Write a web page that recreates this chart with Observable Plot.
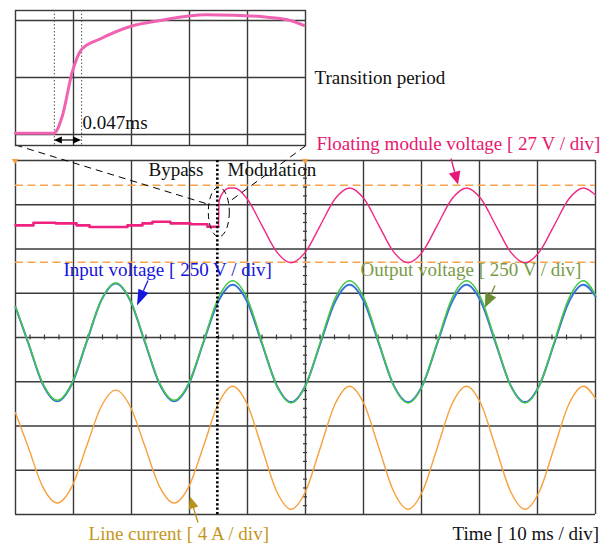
<!DOCTYPE html>
<html>
<head>
<meta charset="utf-8">
<script src="https://cdn.jsdelivr.net/npm/d3@7"></script>
<script src="https://cdn.jsdelivr.net/npm/@observablehq/plot@0.6"></script>
<style>
  body { margin: 0; background: #fff; }
  #wrap { position: relative; width: 612px; height: 544px; overflow: hidden; }
  #wrap svg { position: absolute; overflow: visible; }
</style>
</head>
<body>
<div id="wrap"></div>
<script>
// ---- Oscilloscope capture: time in ms (10 ms/div), amplitude in divisions ----
const gridTimes = [0, 10, 20, 30, 40, 50, 60, 70, 80, 90, 100];
const gridDivs = [-4, -3, -2, -1, 0, 1, 2, 3, 4];
const transitionT = 34.8;           // bypass -> modulation switch instant (ms)
const refLevels = [3.44, 1.70];     // dashed reference levels (div)

// sample instants shared by the grid-side traces (ms)
const sampleT = [0, 2.16, 4.68, 7.2, 9.72, 12.24, 14.76, 17.28, 19.8, 22.32, 24.84,
  27.36, 29.88, 32.4, 34.92, 37.44, 39.96, 42.48, 45.0, 47.52, 50.04, 52.56, 55.08,
  57.6, 60.12, 62.64, 65.16, 67.68, 70.2, 72.72, 75.24, 77.76, 80.28, 82.8, 85.32,
  87.84, 90.36, 92.88, 95.4, 97.92, 100];

// input voltage (div, 250 V/div)
const inputV = [0.69, -0.11, -1.05, -1.44, -1.05, -0.11, 0.83, 1.22, 0.83, -0.11, -1.05,
  -1.44, -1.05, -0.11, 0.80, 1.19, 0.80, -0.135, -1.07, -1.46, -1.07, -0.135, 0.80,
  1.19, 0.80, -0.135, -1.07, -1.46, -1.07, -0.135, 0.80, 1.19, 0.80, -0.135, -1.07,
  -1.46, -1.07, -0.135, 0.80, 1.19, 0.93];

// output voltage (div, 250 V/div)
const outputV = [0.70, -0.095, -1.03, -1.42, -1.03, -0.095, 0.84, 1.23, 0.84, -0.095, -1.03,
  -1.42, -1.03, -0.095, 0.88, 1.28, 0.88, -0.10, -1.08, -1.48, -1.08, -0.10, 0.88,
  1.28, 0.88, -0.10, -1.08, -1.48, -1.08, -0.10, 0.88, 1.28, 0.88, -0.10, -1.08,
  -1.48, -1.08, -0.10, 0.88, 1.28, 0.96];

// line current (div, 4 A/div)
const lineI = [-1.70, -2.465, -3.37, -3.74, -3.37, -2.465, -1.565, -1.19, -1.565, -2.465, -3.37,
  -3.74, -3.37, -2.465, -1.51, -1.10, -1.51, -2.49, -3.47, -3.88, -3.47, -2.49, -1.51,
  -1.10, -1.51, -2.49, -3.47, -3.88, -3.47, -2.49, -1.51, -1.10, -1.51, -2.49, -3.47,
  -3.88, -3.47, -2.49, -1.51, -1.10, -1.38];

// floating module voltage (div, 27 V/div): bypass stretch, then modulation
const floatPreT = [0, 3.10, 6.90, 10.52, 12.76, 19.31, 21.90, 23.62, 26.72, 30.17, 33.10, 35.0];
const floatPreV = [2.535, 2.594, 2.58, 2.535, 2.497, 2.535, 2.58, 2.617, 2.58, 2.56, 2.504, 2.504];
const floatPostT = [35.0, 35.1, 35.9, 36.9, 37.8, 39.96, 42.48, 45.0, 47.52, 50.04, 52.56,
  55.08, 57.6, 60.12, 62.64, 65.16, 67.68, 70.2, 72.72, 75.24, 77.76, 80.28, 82.8, 85.32,
  87.84, 90.36, 92.88, 95.4, 97.92, 100];
const floatPostV = [2.50, 3.08, 3.30, 3.38, 3.38, 3.13, 2.535, 1.94, 1.69, 1.94, 2.535,
  3.13, 3.38, 3.13, 2.535, 1.94, 1.69, 1.94, 2.535, 3.13, 3.38, 3.13, 2.535, 1.94,
  1.69, 1.94, 2.535, 3.13, 3.38, 3.22];

// zoomed view of the switch instant (0.1 ms/div)
const zoomGridT = [0.1, 0.2, 0.3, 0.4];
const zoomGridV = [0, 1, 2];
const zoomT = [0, 0.066, 0.0805, 0.0977, 0.1138, 0.1466, 0.1978, 0.25, 0.296, 0.328,
  0.376, 0.434, 0.474, 0.497];
const zoomV = [0.02, 0.02, 0.316, 1.09, 1.491, 1.679, 1.895, 2.0, 2.075, 2.10,
  2.093, 2.058, 2.0, 1.912];
const transitionStart = 0.067;      // ms
const transitionWidth = 0.047;      // ms

const zip = (ts, vs) => ts.map((t, i) => ({t, v: vs[i]}));
const inputData = zip(sampleT, inputV);
const outputData = zip(sampleT, outputV);
const currentData = zip(sampleT, lineI);
const floatPre = zip(floatPreT, floatPreV);
const floatPost = zip(floatPostT, floatPostV);
const zoomData = zip(zoomT, zoomV);

const SERIF = "Liberation Serif, Times New Roman, serif";
const GRID = "#3a3a3a";

const labels = [
  {text: "Floating module voltage [ 27 V / div]", t: 51.9, v: 4.364, color: "#e6176f"},
  {text: "Bypass", t: 22.93, v: 3.788, color: "#111111"},
  {text: "Modulation", t: 36.55, v: 3.788, color: "#111111"},
  {text: "Input voltage [ 250 V / div]", t: 8.28, v: 1.528, color: "#1414dc"},
  {text: "Output voltage [ 250 V / div]", t: 59.48, v: 1.528, color: "#789a48"},
  {text: "Line current [ 4 A / div]", t: 12.59, v: -4.438, color: "#c4961c"},
  {text: "Time [ 10 ms / div]", t: 75.34, v: -4.438, color: "#111111"},
  {text: "Transition period", t: 51.55, v: 5.867, color: "#111111"}
];

const pointers = [
  {x1: 75.17, y1: 4.034, x2: 76.38, y2: 3.446, color: "#e8177a", len: 13, wid: 12},
  {x1: 22.93, y1: 1.277, x2: 21.03, y2: 0.712, color: "#1515e0", len: 16, wid: 11},
  {x1: 82.76, y1: 1.164, x2: 81.03, y2: 0.667, color: "#6b8c30", len: 14, wid: 12},
  {x1: 31.55, y1: -4.192, x2: 30.17, y2: -3.605, color: "#b8921a", len: 12, wid: 10}
];

const connectors = [
  {x1: 0, y1: 4.35, x2: 33.10, y2: 3.017},
  {x1: 50, y1: 4.33, x2: 36.78, y2: 3.062}
];
const focus = {t: 35.14, v: 2.825, rt: 1.81, rv: 0.558};
const triggers = [{t: 0, v: 4}, {t: 50, v: 4}];

// filled-head arrows drawn through the plot scales
function solidArrows(list, both = false) {
  return (index, scales) => {
    const g = d3.create("svg:g");
    for (const a of list) {
      const x1 = scales.x(a.x1), y1 = scales.y(a.y1), x2 = scales.x(a.x2), y2 = scales.y(a.y2);
      const L = Math.hypot(x2 - x1, y2 - y1), ux = (x2 - x1) / L, uy = (y2 - y1) / L;
      const head = (px, py, sx, sy) => {
        const bx = px - sx * a.len, by = py - sy * a.len;
        g.append("path")
          .attr("d", `M${px},${py}L${bx - sy * a.wid / 2},${by + sx * a.wid / 2}L${bx + sy * a.wid / 2},${by - sx * a.wid / 2}Z`)
          .attr("fill", a.color);
        return [bx, by];
      };
      const [ex, ey] = head(x2, y2, ux, uy);
      let sx = x1, sy = y1;
      if (both) [sx, sy] = head(x1, y1, -ux, -uy);
      g.append("line").attr("x1", sx).attr("y1", sy).attr("x2", ex).attr("y2", ey)
        .attr("stroke", a.color).attr("stroke-width", a.w ?? 1.3);
    }
    return g.node();
  };
}

const main = Plot.plot({
  width: 612, height: 544,
  marginLeft: 15, marginRight: 17, marginTop: 160, marginBottom: 30,
  x: {domain: [0, 100], axis: null},
  y: {domain: [-4, 4], axis: null},
  color: {type: "identity"},
  style: {fontFamily: SERIF, background: "transparent", overflow: "visible"},
  marks: [
    Plot.ruleX(gridTimes, {stroke: GRID, strokeWidth: 1.4}),
    Plot.ruleY(gridDivs, {stroke: GRID, strokeWidth: 1.4}),
    Plot.ruleX(d3.range(0, 100.01, 2.5).filter(t => t % 10 !== 0),
      {x: d => d, y1: -0.056, y2: 0.056, stroke: GRID, strokeWidth: 1.2}),
    Plot.ruleY(d3.range(-4, 4.001, 0.2).filter(v => Math.abs(v - Math.round(v)) > 0.01),
      {y: d => d, x1: 49.65, x2: 50.35, stroke: GRID, strokeWidth: 1.2}),
    (index, {x, y}) => {
      const g = d3.create("svg:g").attr("fill", "#f5a040");
      for (const d of triggers) {
        const px = x(d.t), py = y(d.v);
        g.append("path").attr("d", `M${px - 3.5},${py - 1}L${px + 3.5},${py - 1}L${px},${py + 4}Z`);
      }
      return g.node();
    },
    Plot.ruleY(refLevels, {stroke: "#f6a54c", strokeWidth: 1.5, strokeDasharray: "8,4.5"}),
    Plot.line(currentData, {x: "t", y: "v", stroke: "#f7a03c", strokeWidth: 1.4, curve: "monotone-x"}),
    Plot.line(inputData, {x: "t", y: "v", stroke: "#3a70e2", strokeWidth: 2.0, curve: "monotone-x"}),
    Plot.line(outputData, {x: "t", y: "v", stroke: "#42c842", strokeWidth: 1.5, curve: "monotone-x"}),
    Plot.line(floatPre, {x: "t", y: "v", stroke: "#ee2280", strokeWidth: 2.6, curve: "step-after"}),
    Plot.line(floatPost, {x: "t", y: "v", stroke: "#ee2a86", strokeWidth: 1.4, curve: "monotone-x"}),
    Plot.ruleX([transitionT], {stroke: "#000", strokeWidth: 2.6, strokeDasharray: "2.2,2.2"}),
    Plot.link(connectors, {x1: "x1", y1: "y1", x2: "x2", y2: "y2", stroke: "#000", strokeWidth: 1, strokeDasharray: "7,5"}),
    (index, {x, y}) => {
      const cx = x(focus.t), cy = y(focus.v);
      return d3.create("svg:ellipse")
        .attr("cx", cx).attr("cy", cy)
        .attr("rx", Math.abs(x(focus.t + focus.rt) - cx))
        .attr("ry", Math.abs(y(focus.v + focus.rv) - cy))
        .attr("fill", "none").attr("stroke", "#000").attr("stroke-width", 1)
        .attr("stroke-dasharray", "6,4").node();
    },
    Plot.text(labels, {x: "t", y: "v", text: "text", fill: "color", textAnchor: "start", fontSize: 19}),
    solidArrows(pointers)
  ]
});

const inset = Plot.plot({
  width: 292, height: 137,
  marginLeft: 1, marginRight: 1, marginTop: 1, marginBottom: 1,
  x: {domain: [0, 0.5], axis: null},
  y: {domain: [-0.193, 2.175], axis: null},
  style: {fontFamily: SERIF, background: "transparent", overflow: "visible"},
  marks: [
    Plot.ruleX(zoomGridT, {stroke: GRID, strokeWidth: 1.4}),
    Plot.ruleY(zoomGridV, {stroke: GRID, strokeWidth: 1.4}),
    Plot.frame({stroke: GRID, strokeWidth: 1.4}),
    Plot.ruleX([transitionStart, transitionStart + transitionWidth],
      {stroke: "#555", strokeWidth: 1, strokeDasharray: "1.5,2"}),
    Plot.line(zoomData, {x: "t", y: "v", stroke: "#f062b2", strokeWidth: 3, curve: "monotone-x"}),
    solidArrows([{x1: transitionStart, y1: -0.105, x2: transitionStart + transitionWidth, y2: -0.105,
      color: "#000", len: 8, wid: 7, w: 1.2}], true),
    Plot.text([`${transitionWidth}ms`], {x: transitionStart + transitionWidth, y: 0.195, text: d => d,
      textAnchor: "start", dx: 1, fontSize: 19, fill: "#111"})
  ]
});

main.style.left = "0px"; main.style.top = "0px";
inset.style.left = "14px"; inset.style.top = "9px";
document.getElementById("wrap").append(main, inset);
</script>
</body>
</html>
